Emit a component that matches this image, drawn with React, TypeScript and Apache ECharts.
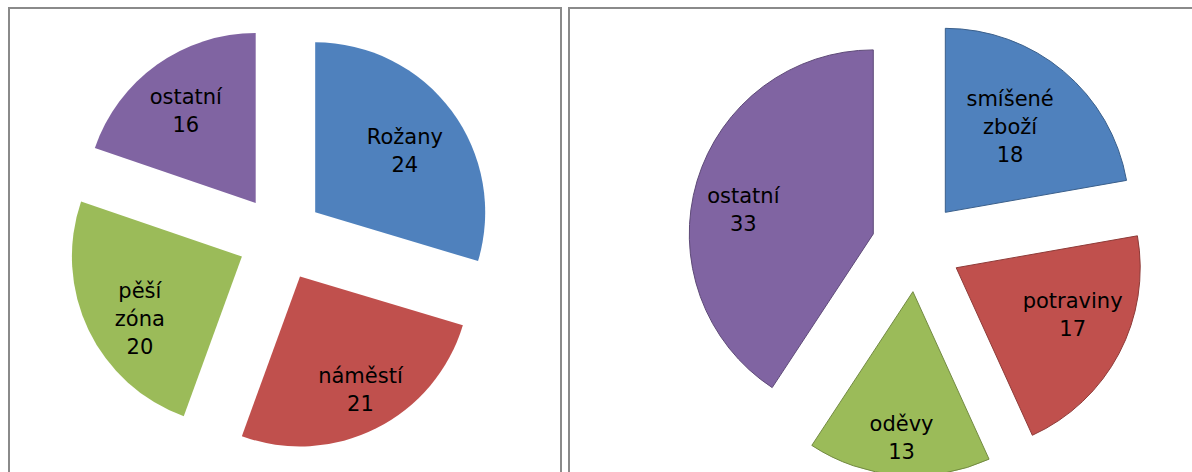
import React, { useEffect, useRef } from 'react';
import * as echarts from 'echarts';

const leftCategories = ['Rožany', 'náměstí', 'pěší zóna', 'ostatní'];
const leftValues = [24, 21, 20, 16];
const rightCategories = ['smíšené zboží', 'potraviny', 'oděvy', 'ostatní'];
const rightValues = [18, 17, 13, 33];

const fills = ['#4F81BD', '#C0504D', '#9BBB59', '#8064A2'];
const outlines = ['#3A5F8B', '#8E3B38', '#728A41', '#5E4A78'];
// label placement inside each slice: radial depth and tangential shift, as fractions of the radius
const leftLabelDepth = [0.622, 0.739, 0.683, 0.664];
const leftLabelSide = [0.024, -0.018, -0.074, -0.018];
const rightLabelDepth = [0.566, 0.662, 0.78, 0.698];
const rightLabelSide = [-0.029, -0.07, 0, -0.076];

function labelShifts(vals: number[], radius: number, depth: number[], side: number[]) {
  const total = vals.reduce((a, b) => a + b, 0);
  let cum = 0;
  return vals.map((v, i) => {
    const mid = ((cum + v / 2) / total) * 2 * Math.PI;
    cum += v;
    const r = (depth[i] - 0.5) * radius;
    const t = side[i] * radius;
    return {
      dx: Math.sin(mid) * r + Math.cos(mid) * t,
      dy: -Math.cos(mid) * r + Math.sin(mid) * t,
    };
  });
}

function buildData(cats: string[], vals: number[], outlined: boolean) {
  return cats.map((name, i) => {
    const itemStyle = {
      color: fills[i],
      borderColor: outlined ? outlines[i] : fills[i],
      borderWidth: outlined ? 1 : 0,
    };
    return { name, value: vals[i], selected: true, itemStyle, select: { itemStyle } };
  });
}

function pieSeries(center: number[], radius: number, offset: number, data: any[], shifts: any[]) {
  return {
    type: 'pie',
    center,
    radius,
    startAngle: 90,
    clockwise: true,
    selectedMode: 'multiple',
    selectedOffset: offset,
    avoidLabelOverlap: false,
    label: {
      show: true,
      position: 'inside',
      formatter: (p: any) => p.name.replace(' ', '\n') + '\n' + p.value,
      color: '#000',
      fontFamily: 'DejaVu Sans',
      fontSize: 21,
      lineHeight: 28,
      align: 'center',
    },
    labelLayout: (p: any) => shifts[p.dataIndex],
    labelLine: { show: false },
    emphasis: { disabled: true },
    data,
  };
}

export default function App() {
  const ref = useRef<HTMLDivElement>(null);
  useEffect(() => {
    if (!ref.current) return;
    const chart = echarts.init(ref.current, undefined, { renderer: 'svg' });
    const leftR = 170;
    const rightR = 184;
    chart.setOption({
      animation: false,
      backgroundColor: '#ffffff',
      graphic: [
        { type: 'rect', shape: { x: 9, y: 8, width: 552, height: 480 }, style: { fill: 'none', stroke: '#8a8a8a', lineWidth: 2 } },
        { type: 'rect', shape: { x: 569, y: 8, width: 640, height: 480 }, style: { fill: 'none', stroke: '#8a8a8a', lineWidth: 2 } },
      ],
      series: [
        pieSeries([280.7, 238], leftR, 43, buildData(leftCategories, leftValues, false), labelShifts(leftValues, leftR, leftLabelDepth, leftLabelSide)),
        pieSeries([916.4, 246.8], rightR, 45, buildData(rightCategories, rightValues, true), labelShifts(rightValues, rightR, rightLabelDepth, rightLabelSide)),
      ],
    });
    return () => chart.dispose();
  }, []);
  return <div ref={ref} style={{ position: 'absolute', left: 0, top: 0, width: 1192, height: 472 }} />;
}
